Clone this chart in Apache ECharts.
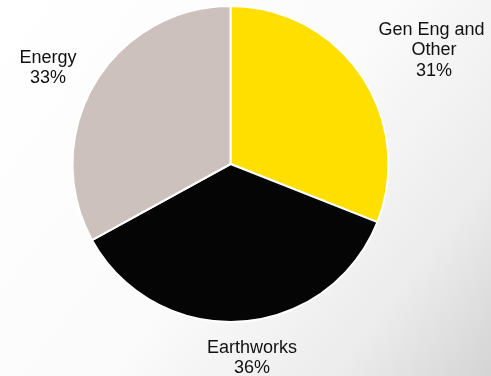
<!DOCTYPE html>
<html>
<head>
<meta charset="utf-8">
<script src="https://cdn.jsdelivr.net/npm/echarts@6/dist/echarts.min.js"></script>
<style>
  html, body { margin: 0; padding: 0; }
  #chart { width: 491px; height: 376px; }
</style>
</head>
<body>
<div id="chart"></div>
<script>
// Revenue share by business segment
const segments = ['Gen Eng and Other', 'Earthworks', 'Energy'];
const shares = [31, 36, 33];
const segmentColors = ['#FFDF00', '#050505', '#CDC1BD'];

// Label anchor points (centre of each text block, in px)
const labelSpots = [
  { x: 434, y: 50.5 },
  { x: 252, y: 358 },
  { x: 48, y: 68 }
];

const chart = echarts.init(document.getElementById('chart'));

chart.setOption({
  backgroundColor: {
    type: 'linear', x: 0, y: 0, x2: 1, y2: 1,
    colorStops: [
      { offset: 0, color: '#ffffff' },
      { offset: 0.5, color: '#fbfbfb' },
      { offset: 0.8, color: '#ececec' },
      { offset: 1, color: '#d4d4d4' }
    ]
  },
  animation: false,
  series: [{
    type: 'pie',
    center: [230.5, 164],
    radius: [0, 158],
    startAngle: 90,
    clockwise: true,
    silent: true,
    data: segments.map((name, i) => ({
      name: name,
      value: shares[i],
      itemStyle: { color: segmentColors[i] }
    })),
    itemStyle: { borderColor: '#ffffff', borderWidth: 2 },
    label: {
      show: true,
      position: 'outside',
      formatter: '{b}\n{d}%',
      fontFamily: 'Liberation Sans, Arial, sans-serif',
      fontSize: 18,
      lineHeight: 20.5,
      color: '#111111',
      align: 'center',
      width: 112,
      overflow: 'break'
    },
    labelLine: { show: false },
    labelLayout: function (params) {
      const spot = labelSpots[params.dataIndex];
      return {
        x: spot.x,
        y: spot.y,
        align: 'center',
        verticalAlign: 'middle'
      };
    }
  }]
});
</script>
</body>
</html>
